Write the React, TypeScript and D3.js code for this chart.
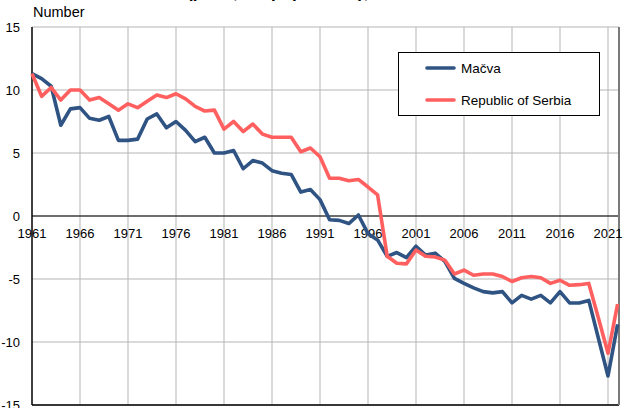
import React from "react";
import * as d3 from "d3";

// natural increase per 1,000 population
const years = d3.range(1961, 2023);

const macva = [
  11.3, 10.9, 10.3, 7.2, 8.5, 8.6, 7.75, 7.6, 7.9, 6.0,
  6.0, 6.1, 7.7, 8.1, 7.0, 7.5, 6.8, 5.9, 6.25, 5.0,
  5.0, 5.2, 3.75, 4.4, 4.2, 3.6, 3.4, 3.3, 1.9, 2.1,
  1.3, -0.3, -0.35, -0.6, 0.08, -1.4, -1.9, -3.2, -2.9, -3.3,
  -2.4, -3.1, -2.95, -3.6, -4.95, -5.35, -5.7, -6.0, -6.1, -6.0,
  -6.9, -6.3, -6.6, -6.3, -6.9, -6.0, -6.9, -6.9, -6.7, -9.7,
  -12.7, -8.6
];

const serbia = [
  11.3, 9.5, 10.2, 9.2, 10.0, 10.0, 9.2, 9.4, 8.9, 8.4,
  8.9, 8.6, 9.1, 9.6, 9.4, 9.7, 9.3, 8.7, 8.33, 8.4,
  6.9, 7.5, 6.7, 7.3, 6.5, 6.25, 6.25, 6.25, 5.1, 5.4,
  4.7, 3.0, 3.0, 2.8, 2.9, 2.3, 1.67, -3.2, -3.75, -3.8,
  -2.7, -3.2, -3.25, -3.5, -4.6, -4.3, -4.7, -4.6, -4.6, -4.8,
  -5.2, -4.9, -4.8, -4.9, -5.35, -5.1, -5.5, -5.45, -5.35, -8.1,
  -10.9, -7.0
];

const xTicks = d3.range(1961, 2022, 5);
const yTicks = [15, 10, 5, 0, -5, -10, -15];
const seriesNames = ["Mačva", "Republic of Serbia"];

const W = 628;
const H = 408;
const left = 32;
const right = 619;
const top = 27;
const bottom = 405;

const BLUE = "#2f5483";
const RED = "#ff5f5f";
const GRID = "#b5b5b5";
const FONT = "Liberation Sans, Arial, sans-serif";

const x = d3.scaleLinear().domain([1961, 2022]).range([left, 617.6]);
const y = d3.scaleLinear().domain([-15, 15]).range([bottom, top]);

const line = d3
  .line<number>()
  .x((d, i) => x(years[i]))
  .y(d => y(d));

export default function App() {
  const series = [
    { name: seriesNames[0], values: macva, color: BLUE },
    { name: seriesNames[1], values: serbia, color: RED }
  ];

  return (
    <svg
      width={W}
      height={H}
      style={{ position: "fixed", left: 0, top: 0, background: "#fff" }}
      fontFamily={FONT}
    >
      <rect x={0} y={0} width={W} height={H} fill="#fff" />

      {/* title, mostly cut off at the top */}
      <text x={50} y={-2} fontSize={17} fontWeight="bold" fill="#000">
        Natural increase (per 1,000 population), 1961–2022
      </text>

      <text x={33} y={17} fontSize={14.5} fill="#000">
        Number
      </text>

      {/* grid */}
      {xTicks.slice(1).map(t => (
        <line key={"gx" + t} x1={x(t)} x2={x(t)} y1={top} y2={bottom} stroke={GRID} strokeWidth={1} />
      ))}
      {yTicks.map(t => (
        <line key={"gy" + t} x1={left} x2={right} y1={y(t)} y2={y(t)} stroke={GRID} strokeWidth={1} />
      ))}

      {/* frame */}
      <line x1={left} x2={right} y1={y(0)} y2={y(0)} stroke="#000" strokeWidth={1.2} />
      <line x1={left} x2={left} y1={top} y2={bottom} stroke="#000" strokeWidth={1.5} />
      <line x1={left} x2={right} y1={bottom} y2={bottom} stroke="#000" strokeWidth={1.5} />
      <line x1={right} x2={right} y1={top} y2={bottom} stroke="#7a7a7a" strokeWidth={2} />

      {/* tick labels */}
      {yTicks.map(t => (
        <text key={"ly" + t} x={20} y={y(t)} dy="0.35em" textAnchor="end" fontSize={13} fill="#000">
          {t}
        </text>
      ))}
      {xTicks.map(t => (
        <text key={"lx" + t} x={x(t)} y={y(0) + 17} dy="0.35em" textAnchor="middle" fontSize={13} fill="#000">
          {t}
        </text>
      ))}

      {/* lines */}
      {series.map(s => (
        <path
          key={s.name}
          d={line(s.values) || ""}
          fill="none"
          stroke={s.color}
          strokeWidth={3.6}
          strokeLinejoin="round"
        />
      ))}

      {/* legend */}
      <rect x={398.5} y={52.5} width={201} height={63} fill="#fff" stroke="#000" strokeWidth={1} />
      {series.map((s, i) => (
        <g key={"lg" + s.name} transform={`translate(0, ${68 + i * 32})`}>
          <line x1={427} x2={454} y1={0} y2={0} stroke={s.color} strokeWidth={3.6} strokeLinecap="round" />
          <text x={461} y={0} dy="0.35em" fontSize={13.5} fill="#000">
            {s.name}
          </text>
        </g>
      ))}
    </svg>
  );
}
